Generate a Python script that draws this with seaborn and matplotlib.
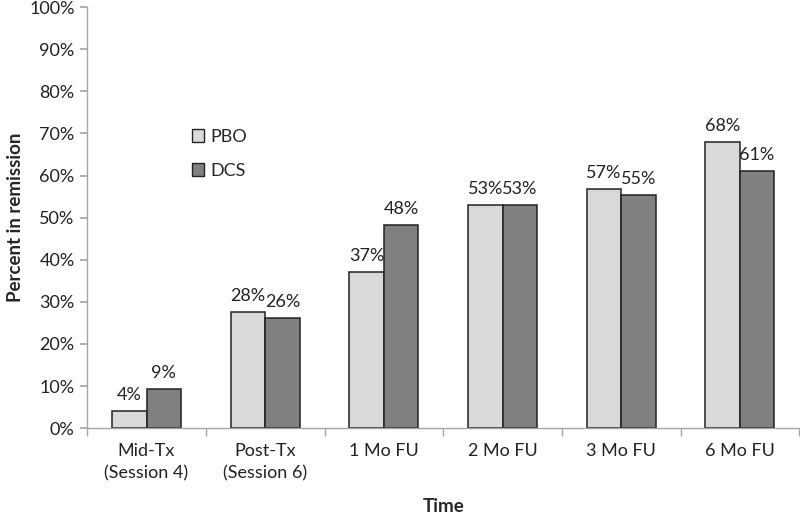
import pandas as pd
import seaborn as sns
import matplotlib.pyplot as plt
from matplotlib.ticker import PercentFormatter

# data
timepoints = ["Mid-Tx\n(Session 4)", "Post-Tx\n(Session 6)", "1 Mo FU", "2 Mo FU", "3 Mo FU", "6 Mo FU"]
pbo = [4.0, 27.6, 37.0, 53.0, 56.8, 67.9]
dcs = [9.3, 26.1, 48.2, 53.0, 55.3, 61.0]
pbo_labels = ["4%", "28%", "37%", "53%", "57%", "68%"]
dcs_labels = ["9%", "26%", "48%", "53%", "55%", "61%"]

df = pd.DataFrame({
    "Time": timepoints * 2,
    "value": pbo + dcs,
    "group": ["PBO"] * len(pbo) + ["DCS"] * len(dcs),
})

sns.set_theme(style="white")
plt.rcParams["font.family"] = ["Lato", "DejaVu Sans"]

fig = plt.figure(figsize=(8, 5.14), dpi=100)
ax = fig.add_axes([0.109, 0.167, 0.89, 0.819])

sns.barplot(
    data=df, x="Time", y="value", hue="group",
    palette={"PBO": "#d9d9d9", "DCS": "#808080"},
    width=0.58, edgecolor="#222222", linewidth=1.1,
    saturation=1, ax=ax,
)

# value labels above bars
for cont, labels in zip(ax.containers, [pbo_labels, dcs_labels]):
    ax.bar_label(cont, labels=labels, padding=6, fontsize=13, color="#222222")

ax.set_ylim(0, 100)
ax.set_xlim(-0.5, len(timepoints) - 0.5)
ax.set_yticks(range(0, 101, 10))
ax.yaxis.set_major_formatter(PercentFormatter(decimals=0))
ax.set_ylabel("Percent in remission", fontsize=13.5, fontweight="bold", labelpad=4)
ax.set_xlabel("Time", fontsize=13.5, fontweight="bold", labelpad=12)

# spines and ticks
for side in ["top", "right"]:
    ax.spines[side].set_visible(False)
for side in ["left", "bottom"]:
    ax.spines[side].set_color("#a6a6a6")
    ax.spines[side].set_linewidth(1)

ax.tick_params(axis="y", which="major", length=5, color="#a6a6a6", direction="out",
               labelsize=13, labelcolor="#222222", left=True, pad=4)
ax.tick_params(axis="x", which="major", length=0, labelsize=13, labelcolor="#222222", pad=11)
for lbl in ax.get_xticklabels():
    lbl.set_linespacing(1.45)
ax.set_xticks([i - 0.5 for i in range(len(timepoints) + 1)], minor=True)
ax.tick_params(axis="x", which="minor", length=6, color="#a6a6a6", direction="out", bottom=True)

leg = ax.legend(
    loc="upper left", bbox_to_anchor=(0.124, 0.75), frameon=False,
    fontsize=13, handlelength=0.7, handleheight=0.7, labelspacing=1.0,
    handletextpad=0.35,
)
for h in leg.legend_handles:
    h.set_edgecolor("#222222")
    h.set_linewidth(1)

plt.savefig("out.png", dpi=100)
